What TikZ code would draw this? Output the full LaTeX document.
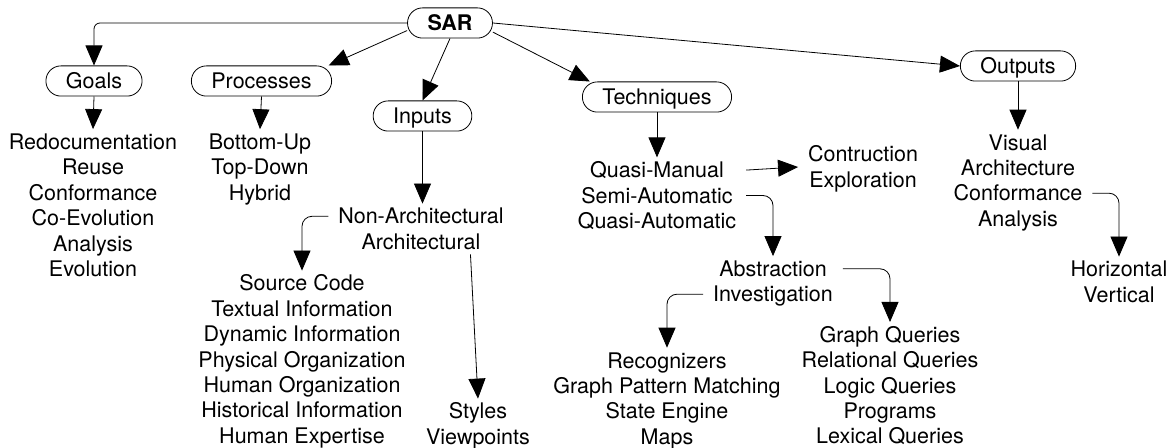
\documentclass[tikz,border=0pt]{standalone}
\usepackage{fontspec}
\setmainfont{TeX Gyre Heros}
\usetikzlibrary{arrows.meta, matrix}
\tikzset{
    ->, % every connector is directed
    >={Triangle[length=10pt, width=8.5pt]}, % big filled heads
    line width=1.2pt,
    topic/.style={draw, rounded corners=7.5pt, inner xsep=10pt, inner ysep=1.2pt, text height=10.2pt, text depth=2.5pt}, % the pill boxes
    items/.style={matrix of nodes, inner xsep=5pt, inner ysep=0pt, outer sep=0pt, row sep=0pt,
        nodes={inner sep=0pt, text height=10.2pt, text depth=2.5pt}}, % one text line per row
    elbow/.style={rounded corners=5pt},
}
\begin{document}
\begin{tikzpicture}[x=0.5pt, y=-0.5pt, font=\fontsize{10.75}{12.65}\selectfont]
    \useasboundingbox (0,0) rectangle (1169,448);
    % boxes
    \node[topic] (sar) at (450,23) {\textbf{SAR}};
    \node[topic] (goals) at (94,81) {Goals};
    \node[topic] (proc) at (261.5,81) {Processes};
    \node[topic] (inp) at (422.5,116) {Inputs};
    \node[topic] (tech) at (657,97) {Techniques};
    \node[topic] (outp) at (1018,66) {Outputs};
    % lists
    \matrix[items] (goalitems) at (93,205.3) {Redocumentation\\ Reuse\\ Conformance\\ Co-Evolution\\ Analysis\\ Evolution\\};
    \matrix[items] (procitems) at (260,167.3) {Bottom-Up\\ Top-Down\\ Hybrid\\};
    \matrix[items] (inpitems) at (421,229) {Non-Architectural\\ Architectural\\};
    \matrix[items] (srcitems) at (302,359.5) {Source Code\\ Textual Information\\ Dynamic Information\\ Physical Organization\\ Human Organization\\ Historical Information\\ Human Expertise\\};
    \matrix[items] (styitems) at (478,424) {Styles\\ Viewpoints\\};
    \matrix[items] (techitems) at (657,195.5) {Quasi-Manual\\ Semi-Automatic\\ Quasi-Automatic\\};
    \matrix[items] (conitems) at (863,167) {Contruction\\ Exploration\\};
    \matrix[items] (absitems) at (773,281.5) {Abstraction\\ Investigation\\};
    \matrix[items] (recitems) at (667,398.5) {Recognizers\\ Graph Pattern Matching\\ State Engine\\ Maps\\};
    \matrix[items] (queitems) at (890,385.5) {Graph Queries\\ Relational Queries\\ Logic Queries\\ Programs\\ Lexical Queries\\};
    \matrix[items] (outitems) at (1018,180.5) {Visual\\ Architecture\\ Conformance\\ Analysis\\};
    \matrix[items] (hvitems) at (1119,282) {Horizontal\\ Vertical\\};
    % connectors
    \draw[rounded corners=3pt] (sar.west) -| (goals.north);
    \draw (sar.190) -- (proc.13);
    \draw (sar.south) -- (inp.north);
    \draw (sar.348) -- (tech.167);
    \draw (sar.east) -- (outp.west);
    \draw (goals.south) -- (goalitems.north);
    \draw (proc.south) -- (procitems.north);
    \draw (inp.south) -- (inp.south |- inpitems.north);
    \draw[elbow] (inpitems-1-1 -| inpitems.west) -| (srcitems.north);
    \draw ([xshift=-5pt]inpitems-2-1.south east) -- (styitems.north);
    \draw (tech.south) -- (techitems.north);
    \draw (techitems-1-1 -| techitems.east) -- (conitems.west);
    \draw[elbow] (techitems-2-1 -| techitems.east) -| (absitems.north);
    \draw[elbow] (absitems-1-1 -| absitems.east) -| (queitems.north);
    \draw[elbow] (absitems-2-1 -| absitems.west) -| (recitems.north);
    \draw (outp.south) -- (outitems.north);
    \draw[elbow] (outitems-3-1 -| outitems.east) -| (hvitems.north);
\end{tikzpicture}
\end{document}
